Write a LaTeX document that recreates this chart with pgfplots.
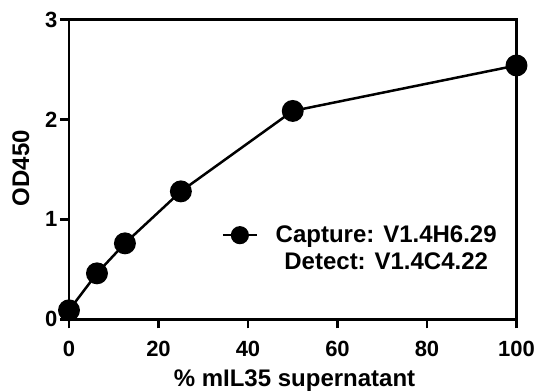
\documentclass[border=0pt]{standalone}
\usepackage{fontspec}
\setmainfont{Liberation Sans}
\usepackage{pgfplots}
\pgfplotsset{compat=1.18}
\begin{document}
\begin{tikzpicture}
\useasboundingbox (-69pt,-71.7pt) rectangle (469pt,319.3pt);
\begin{axis}[
  at={(0pt,0pt)}, anchor=south west,
  scale only axis,
  width=447.5pt, height=299.8pt,
  xmin=0, xmax=100, ymin=0, ymax=3,
  xtick={0,20,40,60,80,100},
  ytick={0,1,2,3},
  xtick pos=left, ytick pos=left,
  tick align=outside,
  major tick length=9pt,
  axis line style={line width=2.6pt, line join=miter},
  every tick/.style={line width=2.4pt, black},
  /pgf/number format/assume math mode=true,
  ticklabel style={font=\fontsize{22}{26}\selectfont\bfseries},
  xticklabel style={yshift=-9pt},
  yticklabel style={xshift=1pt},
  label style={font=\fontsize{24}{28}\selectfont\bfseries},
  xlabel={\% mIL35 supernatant},
  ylabel={OD450},
  xlabel style={at={(axis description cs:0.504,0)}, anchor=base, yshift=-67pt},
  ylabel style={at={(axis description cs:-0.1073,0.504)}, anchor=center},
  clip=false,
  legend style={at={(axis description cs:0.9558,0.311)}, anchor=north east,
    draw=none, fill=none, inner sep=0pt, outer sep=0pt,
    row sep=8pt, column sep=17.6pt,
    font=\fontsize{24}{28}\selectfont\bfseries,
    nodes={inner sep=0pt}},
  legend cell align=center,
  legend image code/.code={
    \draw[line width=2.5pt] (0pt,0pt) -- (34pt,0pt);
    \fill[black] (17pt,0pt) circle (7.8pt);
  },
]
\addplot[black, line width=2.5pt, mark=*, mark size=9.7pt, mark options={fill=black, solid}]
  coordinates {(0,0.09) (6.25,0.46) (12.5,0.76) (25,1.28) (50,2.085) (100,2.54)};
\addlegendentry{Capture: V1.4H6.29}
\addlegendimage{empty legend}
\addlegendentry{Detect: V1.4C4.22}
\end{axis}
\end{tikzpicture}
\end{document}
